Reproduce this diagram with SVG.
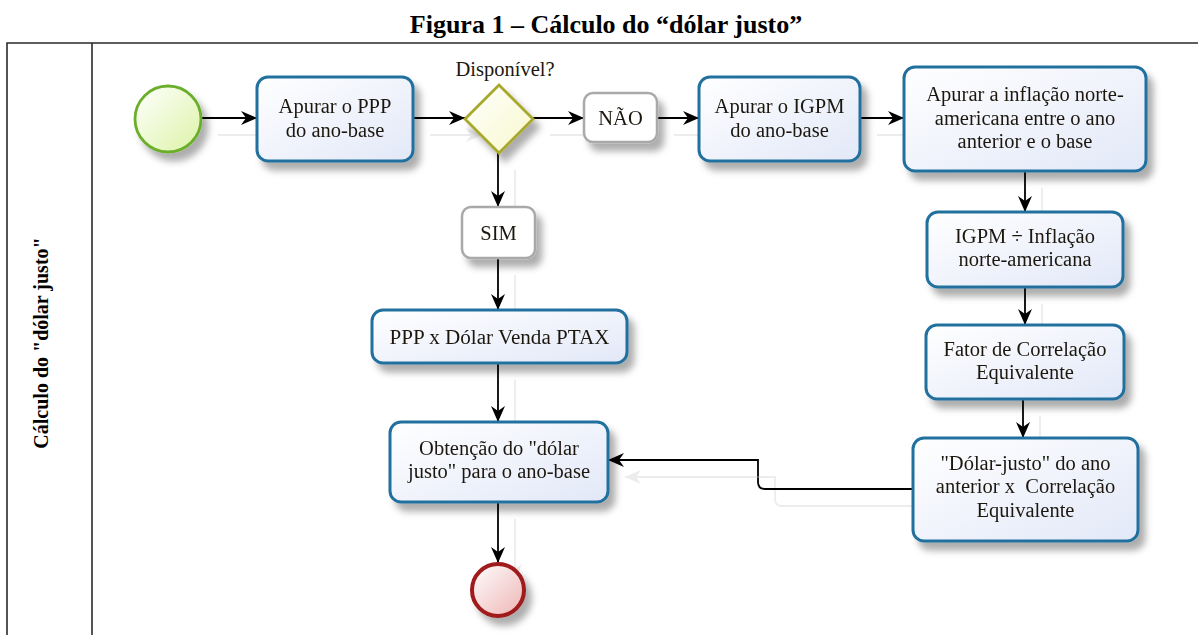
<svg xmlns="http://www.w3.org/2000/svg" width="1198" height="635" viewBox="0 0 1198 635">
<defs>
<style>
.frame{fill:none;stroke:#2a2a2a;stroke-width:1.6}
.title{font-family:"Liberation Serif","Times New Roman",serif;font-weight:bold;font-size:26px;fill:#000;text-anchor:middle}
.lane{font-family:"Liberation Serif","Times New Roman",serif;font-weight:bold;font-size:20px;fill:#000;text-anchor:middle}
.task{fill:url(#gTask);stroke:#21709d;stroke-width:3}
.gray{fill:#ffffff;stroke:#a9a9a9;stroke-width:2.5}
.t{font-family:"Liberation Serif","Times New Roman",serif;font-size:20.5px;fill:#1c1810;text-anchor:middle;white-space:pre}
.conn{fill:none;stroke:#000;stroke-width:1.8}
</style>
<linearGradient id="gTask" x1="0" y1="0" x2="1" y2="1">
<stop offset="0" stop-color="#ffffff"/>
<stop offset="1" stop-color="#e2e8f8"/>
</linearGradient>
<linearGradient id="gStart" x1="0" y1="0" x2="1" y2="1">
<stop offset="0" stop-color="#ffffff"/>
<stop offset="1" stop-color="#dcf3a6"/>
</linearGradient>
<linearGradient id="gEnd" x1="0" y1="0" x2="1" y2="1">
<stop offset="0" stop-color="#ffffff"/>
<stop offset="1" stop-color="#eeb4b4"/>
</linearGradient>
<linearGradient id="gGate" x1="0" y1="0" x2="1" y2="1">
<stop offset="0" stop-color="#ffffff"/>
<stop offset="1" stop-color="#f8f8cc"/>
</linearGradient>
<filter id="sh" filterUnits="userSpaceOnUse" x="0" y="0" width="1198" height="635">
<feGaussianBlur in="SourceAlpha" stdDeviation="3.5"/>
<feOffset dx="6" dy="8" result="b"/>
<feFlood flood-color="#000" flood-opacity="0.32"/>
<feComposite in2="b" operator="in" result="s"/>
<feMerge><feMergeNode in="s"/><feMergeNode in="SourceGraphic"/></feMerge>
</filter>
<filter id="csh" filterUnits="userSpaceOnUse" x="0" y="0" width="1198" height="635">
<feOffset in="SourceAlpha" dx="17" dy="17" result="o"/>
<feFlood flood-color="#ececec"/>
<feComposite in2="o" operator="in" result="s"/>
<feMerge><feMergeNode in="s"/><feMergeNode in="SourceGraphic"/></feMerge>
</filter>
<marker id="arr" viewBox="0 0 16 16" refX="16" refY="8" markerWidth="16" markerHeight="16" markerUnits="userSpaceOnUse" orient="auto">
<path d="M0,1 L16,8 L0,15 L5,8 z" fill="#000"/>
</marker>
</defs>

<rect width="1198" height="635" fill="#ffffff"/>

<text class="title" x="606" y="33">Figura 1 – Cálculo do “dólar justo”</text>

<g id="pool">
<path class="frame" d="M7,636 V43 H1199"/>
<path class="frame" d="M92,43 V636"/>
<text class="lane" transform="translate(48,343) rotate(-90)">Cálculo do "dólar justo"</text>
</g>

<g id="connectors" filter="url(#csh)">
<path class="conn" d="M201,118 H257" marker-end="url(#arr)"/>
<path class="conn" d="M413,118 H465" marker-end="url(#arr)"/>
<path class="conn" d="M533,118 H584" marker-end="url(#arr)"/>
<path class="conn" d="M657,118 H699" marker-end="url(#arr)"/>
<path class="conn" d="M860,118 H904" marker-end="url(#arr)"/>
<path class="conn" d="M1025,171 V212" marker-end="url(#arr)"/>
<path class="conn" d="M1025,287 V325" marker-end="url(#arr)"/>
<path class="conn" d="M1023,399 V438" marker-end="url(#arr)"/>
<path class="conn" d="M913,489 H765 Q758,489 758,482 V460 H608" marker-end="url(#arr)"/>
<path class="conn" d="M498,153 V207" marker-end="url(#arr)"/>
<path class="conn" d="M498,258 V310" marker-end="url(#arr)"/>
<path class="conn" d="M498,363 V422" marker-end="url(#arr)"/>
<path class="conn" d="M498,502 V563" marker-end="url(#arr)"/>
</g>

<g id="start" filter="url(#sh)">
<circle cx="168" cy="119" r="33" fill="url(#gStart)" stroke="#6aae2c" stroke-width="2.8"/>
</g>

<g id="apurar-ppp" filter="url(#sh)">
<rect class="task" x="257" y="77" width="156" height="84" rx="11"/>
<text class="t" x="335" y="113">Apurar o PPP</text>
<text class="t" x="335" y="136.5">do ano-base</text>
</g>

<g id="gateway">
<polygon points="499,85 533,119 499,153 465,119" fill="url(#gGate)" stroke="#a8a82c" stroke-width="2.8" filter="url(#sh)"/>
<text class="t" x="505" y="76">Disponível?</text>
</g>

<g id="nao" filter="url(#sh)">
<rect class="gray" x="584" y="93" width="73" height="49" rx="9"/>
<text class="t" x="620.5" y="125">NÃO</text>
</g>

<g id="apurar-igpm" filter="url(#sh)">
<rect class="task" x="699" y="77" width="161" height="84" rx="11"/>
<text class="t" x="779.5" y="113">Apurar o IGPM</text>
<text class="t" x="779.5" y="136.5">do ano-base</text>
</g>

<g id="apurar-inflacao" filter="url(#sh)">
<rect class="task" x="904" y="67" width="242" height="104" rx="11"/>
<text class="t" x="1025" y="101">Apurar a inflação norte-</text>
<text class="t" x="1025" y="124.5">americana entre o ano</text>
<text class="t" x="1025" y="148">anterior e o base</text>
</g>

<g id="igpm-div" filter="url(#sh)">
<rect class="task" x="927" y="212" width="196" height="75" rx="11"/>
<text class="t" x="1025" y="243">IGPM ÷ Inflação</text>
<text class="t" x="1025" y="266">norte-americana</text>
</g>

<g id="fator" filter="url(#sh)">
<rect class="task" x="926" y="325" width="198" height="74" rx="11"/>
<text class="t" x="1025" y="355.5">Fator de Correlação</text>
<text class="t" x="1025" y="378.5">Equivalente</text>
</g>

<g id="dolar-anterior" filter="url(#sh)">
<rect class="task" x="913" y="438" width="225" height="103" rx="11"/>
<text class="t" x="1025.5" y="469.5">"Dólar-justo" do ano</text>
<text class="t" x="1025.5" y="493">anterior x  Correlação</text>
<text class="t" x="1025.5" y="516.5">Equivalente</text>
</g>

<g id="sim" filter="url(#sh)">
<rect class="gray" x="462" y="207" width="73" height="51" rx="9"/>
<text class="t" x="498.5" y="240">SIM</text>
</g>

<g id="ppp-x-dolar" filter="url(#sh)">
<rect class="task" x="372" y="310" width="255" height="53" rx="11"/>
<text class="t" x="499.5" y="344" textLength="220" lengthAdjust="spacingAndGlyphs">PPP x Dólar Venda PTAX</text>
</g>

<g id="obtencao" filter="url(#sh)">
<rect class="task" x="390" y="422" width="218" height="80" rx="11"/>
<text class="t" x="499" y="455">Obtenção do "dólar</text>
<text class="t" x="499" y="478">justo" para o ano-base</text>
</g>

<g id="end" filter="url(#sh)">
<circle cx="498" cy="590" r="26" fill="url(#gEnd)" stroke="#a01a1a" stroke-width="4"/>
</g>
</svg>
